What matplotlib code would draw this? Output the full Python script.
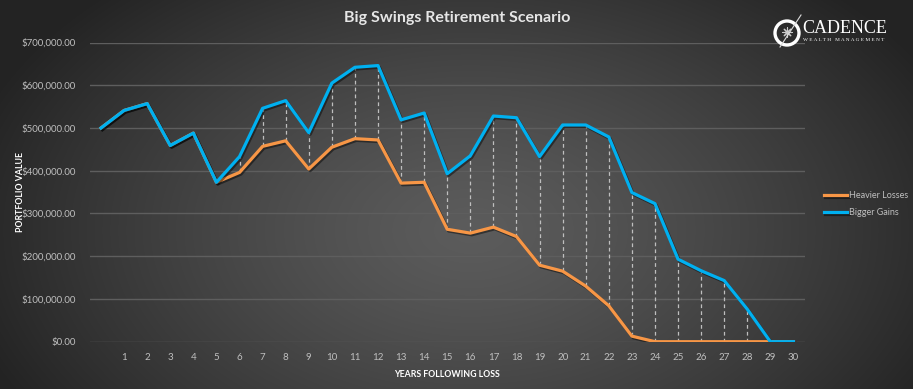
import numpy as np
import matplotlib
matplotlib.use('Agg')
from matplotlib import pyplot as plt
from matplotlib import patheffects as pe
from matplotlib.patches import Circle

# data
years = list(range(0, 31))
heavier_losses = [500000, 541000, 557000, 459000, 488000, 373000, 396000, 457000, 470000, 404000,
                  455000, 475000, 472000, 371000, 373000, 263000, 254000, 268000, 246000, 179000,
                  165000, 130000, 84000, 13000, 0, 0, 0, 0, 0, 0, 0]
bigger_gains = [500000, 541000, 557000, 459000, 488000, 373000, 433000, 546000, 564000, 489000,
                605000, 642000, 646000, 519000, 535000, 393000, 435000, 528000, 524000, 433000,
                507000, 507000, 479000, 349000, 323000, 193000, 166000, 143000, 76000, 0, 0]
y_ticks = [0, 100000, 200000, 300000, 400000, 500000, 600000, 700000]
x_labels = [''] + [str(i) for i in range(1, 31)]

ORANGE = '#F79646'
BLUE = '#00B0F0'
TXT = '#BFBFBF'

plt.rcParams['font.family'] = ['Lato', 'DejaVu Sans']


def background(fig):
    bg = fig.add_axes([0, 0, 1, 1], zorder=-10)
    w, h = 913, 389
    xx, yy = np.meshgrid(np.arange(w), np.arange(h))
    r = np.sqrt(((xx - 470) / 520.0) ** 2 + ((yy - 230) / 330.0) ** 2)
    val = 0.36 - 0.22 * np.clip(r, 0, 1) ** 1.3
    img = np.dstack([val, val, val])
    bg.imshow(img, aspect='auto', extent=[0, 1, 0, 1])
    bg.set_xlim(0, 1)
    bg.set_ylim(0, 1)
    bg.axis('off')


def logo(fig):
    lg = fig.add_axes([0, 0, 1, 1], zorder=5)
    lg.set_xlim(0, 913)
    lg.set_ylim(389, 0)
    lg.axis('off')
    lg.add_patch(Circle((787, 33), 12, fill=False, ec='white', lw=2.4))
    lg.plot([780, 801], [47, 15], color='#dddddd', lw=0.8)
    lg.scatter([787], [32], marker=(8, 2, 0), s=45, color='#cccccc', lw=0.8)
    lg.text(802, 28, 'CADENCE', family='Liberation Serif', fontsize=13, color='white',
            va='center', ha='left')
    lg.text(803, 40, 'W E A L T H   M A N A G E M E N T', family='Liberation Serif', fontsize=3.8,
            color='white', va='center', ha='left')


def make_plot():
    fig = plt.figure(figsize=(9.13, 3.89), dpi=100)
    background(fig)
    ax = fig.add_axes([89.5 / 913, 1 - 341.7 / 389, 715.5 / 913, 299.2 / 389])
    ax.set_facecolor('none')

    shadow = [pe.SimpleLineShadow(offset=(1, -1.2), alpha=0.45, shadow_color='black'), pe.Normal()]

    # dashed high-low lines between the two series
    for x, lo, hi in zip(years, heavier_losses, bigger_gains):
        if hi != lo:
            ax.plot([x, x], [lo, hi], color='#BFBFBF', lw=0.9, ls=(0, (3, 2.5)), zorder=2)

    ax.plot(years, heavier_losses, color=ORANGE, lw=2.3, label='Heavier Losses', zorder=3,
            path_effects=shadow, solid_joinstyle='round')
    ax.plot(years, bigger_gains, color=BLUE, lw=2.3, label='Bigger Gains', zorder=4,
            path_effects=shadow, solid_joinstyle='round')

    ax.set_xlim(-0.5, 30.5)
    ax.set_ylim(0, 700000)
    ax.set_yticks(y_ticks)
    ax.set_yticklabels([f'${v:,.2f}' for v in y_ticks])
    ax.set_xticks(years)
    ax.set_xticklabels(x_labels)
    ax.grid(axis='y', color='#5E5E5E', lw=1)
    ax.set_axisbelow(True)
    for s in ax.spines.values():
        s.set_visible(False)
    ax.tick_params(axis='both', length=0, colors=TXT, labelsize=7)
    ax.tick_params(axis='y', pad=10)
    ax.tick_params(axis='x', pad=8)

    fig.text(21 / 913, 1 - 192 / 389, 'PORTFOLIO VALUE', color='white', fontsize=6.3,
             fontweight='bold', rotation=90, ha='center', va='center')
    ax.set_xlabel('YEARS FOLLOWING LOSS', color='white', fontsize=6.3, fontweight='bold', labelpad=6)

    fig.text(457 / 913, 1 - 18 / 389, 'Big Swings Retirement Scenario', color='#E6E6E6',
             fontsize=11.5, fontweight='bold', ha='center', va='center')

    leg = ax.legend(loc='center left', bbox_to_anchor=(1.015, 0.46), frameon=False, fontsize=6.5,
                    handlelength=2.6, handletextpad=0.2, labelspacing=0.9)
    for t in leg.get_texts():
        t.set_color(TXT)

    logo(fig)
    plt.savefig('out.png', dpi=100)


def main():
    make_plot()


if __name__ == '__main__':
    main()
